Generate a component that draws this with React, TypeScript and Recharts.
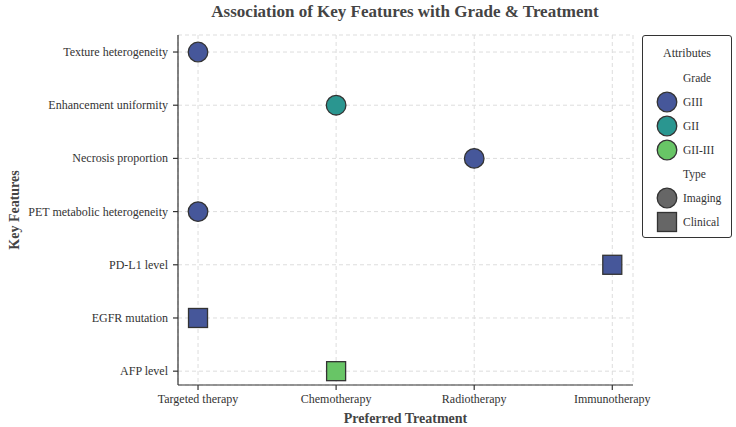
import * as React from 'react';
import { ScatterChart, Scatter, XAxis, YAxis, CartesianGrid, Label } from 'recharts';

const FEATURES = [
  'AFP level',
  'EGFR mutation',
  'PD-L1 level',
  'PET metabolic heterogeneity',
  'Necrosis proportion',
  'Enhancement uniformity',
  'Texture heterogeneity',
];
const TREATMENTS = ['Targeted therapy', 'Chemotherapy', 'Radiotherapy', 'Immunotherapy'];

// one entry per feature, same order as FEATURES
const POINT_TREATMENT = [
  'Chemotherapy',
  'Targeted therapy',
  'Immunotherapy',
  'Targeted therapy',
  'Radiotherapy',
  'Chemotherapy',
  'Targeted therapy',
];
const POINT_GRADE = ['GII-III', 'GIII', 'GIII', 'GIII', 'GIII', 'GII', 'GIII'];
const POINT_TYPE = ['Clinical', 'Clinical', 'Clinical', 'Imaging', 'Imaging', 'Imaging', 'Imaging'];

const GRADES = ['GIII', 'GII', 'GII-III'];
const TYPES = ['Imaging', 'Clinical'];

const GRADE_COLOR: Record<string, string> = {
  GIII: '#46579a',
  GII: '#2a9690',
  'GII-III': '#68c566',
};

const FONT = "'Liberation Serif', 'Times New Roman', Times, serif";
const INK = '#333';

const points = FEATURES.map((f, i) => ({
  x: TREATMENTS.indexOf(POINT_TREATMENT[i]),
  y: i,
  feature: f,
  grade: POINT_GRADE[i],
  type: POINT_TYPE[i],
}));

function Marker(props: any) {
  const { cx, cy, payload } = props;
  const fill = GRADE_COLOR[payload.grade];
  if (payload.type === 'Clinical') {
    return <rect x={cx - 9.5} y={cy - 9.5} width={19} height={19} fill={fill} stroke={INK} strokeWidth={1.3} />;
  }
  return <circle cx={cx} cy={cy} r={9.8} fill={fill} stroke={INK} strokeWidth={1.3} />;
}

// plain text ticks, no wrapping
function YTick(props: any) {
  const { x, y, payload } = props;
  return (
    <text x={x - 3} y={y} dy={4} textAnchor="end" fontSize={12} fill={INK} fontFamily={FONT}>
      {FEATURES[payload.value]}
    </text>
  );
}

function XTick(props: any) {
  const { x, y, payload } = props;
  return (
    <text x={x} y={y} dy={11} textAnchor="middle" fontSize={12} fill={INK} fontFamily={FONT}>
      {TREATMENTS[payload.value]}
    </text>
  );
}

function LegendBox() {
  const label = (top: number, s: string) => (
    <div style={{ position: 'absolute', top, left: 40, fontSize: 11.5, color: INK, lineHeight: '14px' }}>{s}</div>
  );
  const swatch = (top: number, shape: 'circle' | 'square', fill: string) => (
    <svg width={24} height={22} style={{ position: 'absolute', left: 12, top }}>
      {shape === 'square' ? (
        <rect x={2.5} y={1.5} width={19} height={19} fill={fill} stroke={INK} strokeWidth={1.3} />
      ) : (
        <circle cx={12} cy={11} r={9.8} fill={fill} stroke={INK} strokeWidth={1.3} />
      )}
    </svg>
  );
  return (
    <div
      style={{
        position: 'absolute',
        left: 642,
        top: 35,
        width: 88,
        height: 201,
        border: `1px solid ${INK}`,
        borderRadius: 3,
        fontFamily: FONT,
        background: '#fff',
      }}
    >
      <div style={{ position: 'absolute', top: 10, width: '100%', textAlign: 'center', fontSize: 12, color: INK }}>
        Attributes
      </div>
      {label(35, 'Grade')}
      {GRADES.map((g, i) => (
        <React.Fragment key={g}>
          {swatch(55 + i * 24, 'circle', GRADE_COLOR[g])}
          {label(59 + i * 24, g)}
        </React.Fragment>
      ))}
      {label(131, 'Type')}
      {TYPES.map((t, i) => (
        <React.Fragment key={t}>
          {swatch(151 + i * 24, t === 'Clinical' ? 'square' : 'circle', '#666')}
          {label(155 + i * 24, t)}
        </React.Fragment>
      ))}
    </div>
  );
}

export default function App() {
  return (
    <div style={{ position: 'absolute', left: 0, top: 0, width: 736, height: 427, background: '#fff', fontFamily: FONT }}>
      <ScatterChart width={736} height={427} margin={{ top: 35, right: 103, bottom: 0, left: 0 }}>
        <CartesianGrid stroke="#ddd" strokeDasharray="4 3" />
        <XAxis
          type="number"
          dataKey="x"
          domain={[-0.145, 3.15]}
          ticks={[0, 1, 2, 3]}
          interval={0}
          height={42}
          tick={<XTick />}
          tickSize={5}
          stroke={INK}
          strokeWidth={1.2}
          allowDataOverflow
        >
          <Label
            value="Preferred Treatment"
            position="insideBottom"
            offset={4}
            style={{ fontSize: 14, fontWeight: 'bold', fill: '#444', fontFamily: FONT }}
          />
        </XAxis>
        <YAxis
          type="number"
          dataKey="y"
          domain={[-0.26, 6.32]}
          ticks={[0, 1, 2, 3, 4, 5, 6]}
          interval={0}
          width={178}
          tick={<YTick />}
          tickSize={5}
          stroke={INK}
          strokeWidth={1.2}
          allowDataOverflow
        >
          <Label
            value="Key Features"
            angle={-90}
            position="insideLeft"
            offset={14}
            style={{ fontSize: 14, fontWeight: 'bold', fill: '#444', fontFamily: FONT, textAnchor: 'middle' }}
          />
        </YAxis>
        <Scatter data={points} shape={Marker} isAnimationActive={false} />
      </ScatterChart>
      <div
        style={{
          position: 'absolute',
          top: 2,
          left: 0,
          width: 810,
          textAlign: 'center',
          fontSize: 17,
          fontWeight: 'bold',
          color: '#444',
        }}
      >
        Association of Key Features with Grade &amp; Treatment
      </div>
      <LegendBox />
    </div>
  );
}
